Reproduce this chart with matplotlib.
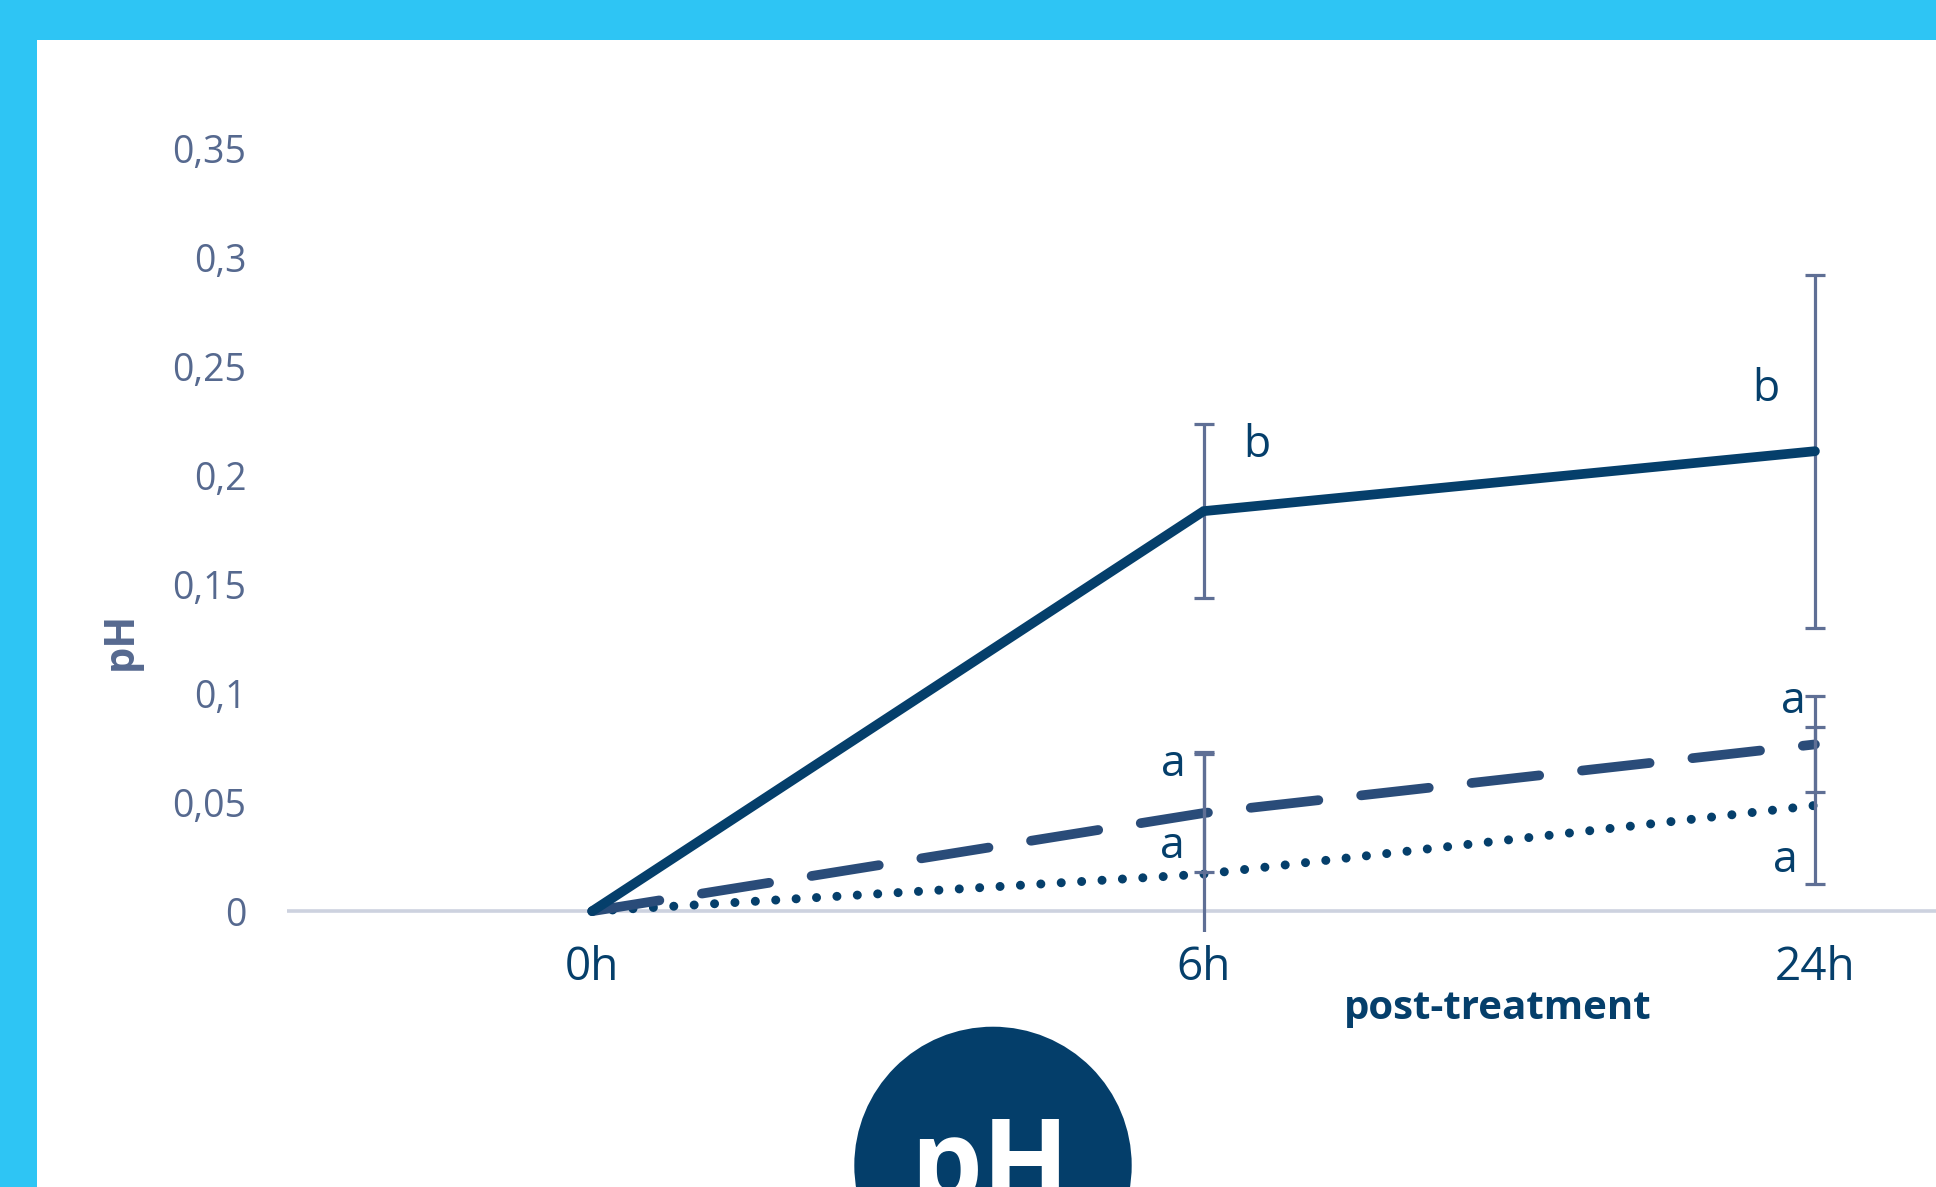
import numpy as np
import matplotlib
matplotlib.use("Agg")
import matplotlib.pyplot as plt
from matplotlib.patches import Rectangle, Ellipse

# --- data ---
times = ["0h", "6h", "24h"]
solid_vals = [0, 0.1835, 0.211]
solid_err = [0, 0.040, 0.081]
dashed_vals = [0, 0.045, 0.0765]
dashed_err = [0, 0.027, 0.022]
dotted_vals = [0, 0.017, 0.0485]
dotted_err = [0, 0.056, 0.036]
y_ticks = [0, 0.05, 0.1, 0.15, 0.2, 0.25, 0.3, 0.35]
y_tick_labels = ["0", "0,05", "0,1", "0,15", "0,2", "0,25", "0,3", "0,35"]

# significance letters: (category index, anchor value, letter, offset px)
letters = [
    (1, 0.1835 + 0.040, "b", (53, -33)),
    (2, 0.211, "b", (-49, 50)),
    (1, 0.045 + 0.027, "a", (-30, -22)),
    (1, 0.017, "a", (-31, 16)),
    (2, 0.0765 + 0.022, "a", (-22, -17)),
    (2, 0.0485 - 0.036, "a", (-30, 12)),
]

NAVY = "#053F6B"
DASH = "#2A4C79"
ERR = "#5F6F95"
TICK = "#56698F"
CYAN = "#2EC5F4"

plt.rcParams["font.family"] = ["Open Sans", "DejaVu Sans"]
plt.rcParams["lines.scale_dashes"] = False

W, H = 1936, 1187
fig = plt.figure(figsize=(W / 100, H / 100), dpi=100)
fig.patch.set_facecolor("white")

# frame bands
fig.add_artist(Rectangle((0, 1 - 40 / H), 1, 40 / H, transform=fig.transFigure,
                         facecolor=CYAN, edgecolor="none", zorder=0))
fig.add_artist(Rectangle((0, 0), 37 / W, 1, transform=fig.transFigure,
                         facecolor=CYAN, edgecolor="none", zorder=0))

ax_left, ax_right = 286.5, 1936
ax_top, ax_bot = 148.2, 932.1
ax = fig.add_axes([ax_left / W, 1 - ax_bot / H, (ax_right - ax_left) / W, (ax_bot - ax_top) / H])
ax.set_facecolor("none")

x = np.arange(len(times))
ax.axhline(0, color="#CDD2DF", lw=2.6, zorder=1)

ax.plot(x, dotted_vals, color=NAVY, lw=6.5, dashes=(0.01, 14.7),
        dash_capstyle="round", solid_capstyle="round", zorder=2)
ax.plot(x, dashed_vals, color=DASH, lw=7, dashes=(49, 31),
        dash_capstyle="round", zorder=2)

for vals, errs in [(solid_vals, solid_err), (dashed_vals, dashed_err), (dotted_vals, dotted_err)]:
    ax.errorbar(x[1:], vals[1:], yerr=errs[1:], fmt="none", ecolor=ERR,
                elinewidth=2.3, capsize=7.5, capthick=2.3, zorder=3)

ax.plot(x, solid_vals, color=NAVY, lw=7, solid_capstyle="round",
        solid_joinstyle="miter", zorder=4)

for xi, yi, txt, (dx, dy) in letters:
    ax.annotate(txt, xy=(xi, yi), xytext=(dx, dy), textcoords="offset pixels",
                ha="center", va="baseline", fontsize=32, color=NAVY)

ax.set_xlim(-0.5, (ax_right - 593) / 611.0)
ax.set_ylim(-0.0096, 0.35)
ax.set_yticks(y_ticks)
ax.set_yticklabels(y_tick_labels)
ax.set_xticks(x)
ax.set_xticklabels(times)
ax.tick_params(axis="y", length=0, pad=29, labelsize=27, labelcolor=TICK)
ax.tick_params(axis="x", length=0, pad=9, labelsize=33, labelcolor=NAVY)
for s in ax.spines.values():
    s.set_visible(False)

ax.set_xlabel("post-treatment", fontsize=29, fontweight="bold", color=NAVY, va="center")
ax.xaxis.set_label_coords(0.7345, -0.098)
ax.set_ylabel("pH", fontsize=30, fontweight="bold", color=TICK, va="center")
ax.yaxis.set_label_coords(-0.1003, 0.3713)

# badge at the bottom
r = 138.7
fig.add_artist(Ellipse((993 / W, 1 - 1165.4 / H), 2 * r / W, 2 * r / H,
                       transform=fig.transFigure, facecolor="#043E6A", edgecolor="none"))
fig.text(990 / W, 1 - 1200.7 / H, "pH", color="white", fontsize=82, fontweight="bold",
         ha="center", va="baseline")

fig.savefig("out.png", dpi=100)
